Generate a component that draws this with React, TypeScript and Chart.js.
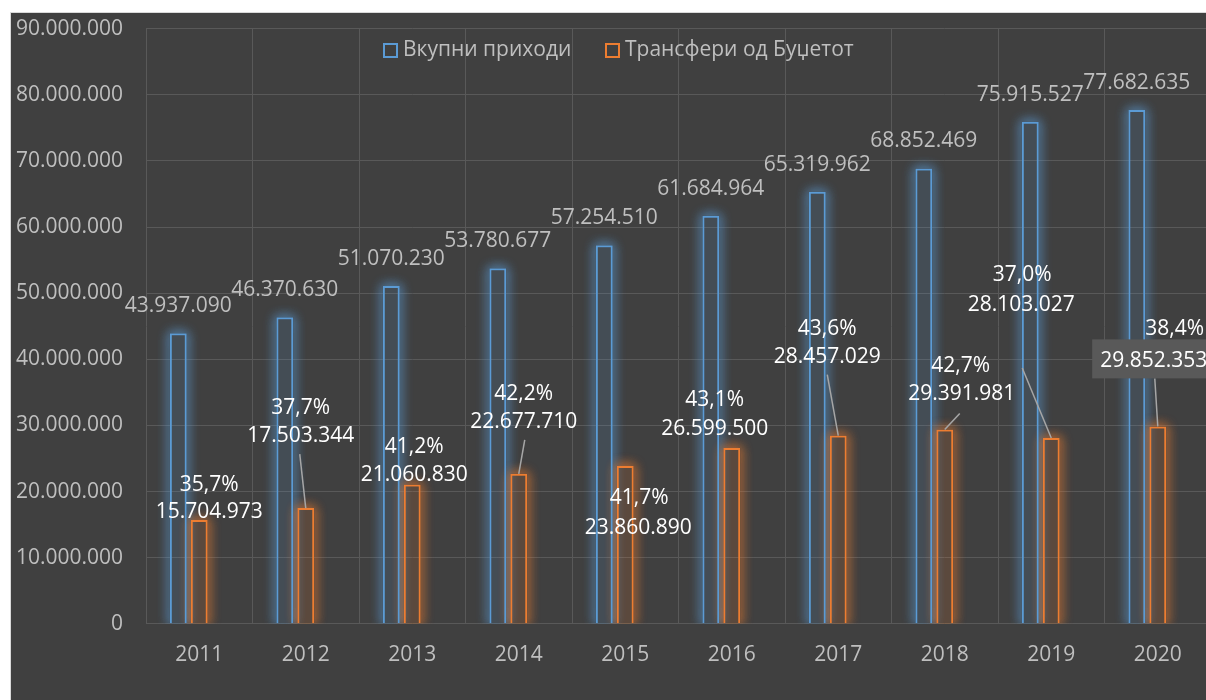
import { useEffect, useRef } from 'react';
import { Chart, registerables } from 'chart.js';

Chart.register(...registerables);

// ---- data ----
const YEARS = ['2011', '2012', '2013', '2014', '2015', '2016', '2017', '2018', '2019', '2020'];
const TOTAL_INCOME = [43937090, 46370630, 51070230, 53780677, 57254510, 61684964, 65319962, 68852469, 75915527, 77682635];
const BUDGET_TRANSFERS = [15704973, 17503344, 21060830, 22677710, 23860890, 26599500, 28457029, 29391981, 28103027, 29852353];
const TRANSFER_SHARE = [35.7, 37.7, 41.2, 42.2, 41.7, 43.1, 43.6, 42.7, 37.0, 38.4];
const SERIES_NAMES = ['Вкупни приходи', 'Трансфери од Буџетот'];
const Y_MAX = 90000000;
const Y_STEP = 10000000;

// ---- label layout (manually placed labels in the original) ----
const TRANSFER_LABEL_OFFSET: [number, number][] = [
  [10, -8], [-5, -72], [2, -10], [5, -52], [13, 62], [-17, -19], [-11, -79], [17, -35], [-30, -133], [-4, -65],
];
const SHARE_LABEL_SHIFT: [number, number][] = [
  [0, -27], [0, -28], [0, -28], [0, -28], [1, -30], [0, -29], [0, -28], [-1, -28], [1, -30], [21, -32],
];
const LEADER_START: ([number, number] | null)[] = [
  null, [-1, 18], null, [1, 18], null, null, [0, 18], [-2, 19], [1, 63], [1, 17],
];
const BOXED_LABEL = [false, false, false, false, false, false, false, false, false, true];

const FONT = '"Open Sans", sans-serif';
const FS = 21;
const BLUE = '#5b9bd5';
const ORANGE = '#ed7d31';
const GRAY_TEXT = '#bfbfbf';
const SHIFT = 20; // canvas is shifted up inside the frame

const fmt = (v: number) => Math.round(v).toString().replace(/\B(?=(\d{3})+(?!\d))/g, '.');
const fmtPct = (v: number) => v.toFixed(1).replace('.', ',') + '%';

const glowPlugin = {
  id: 'glow',
  beforeDatasetsDraw(chart: any) {
    const { ctx, chartArea } = chart;
    const specs: [number, string][] = [
      [0, 'rgba(91,155,213,1)'],
      [1, 'rgba(237,125,49,1)'],
    ];
    const OFF = 5000;
    specs.forEach(([i, c]) => {
      const meta = chart.getDatasetMeta(i);
      meta.data.forEach((bar: any) => {
        const { x, y, base, width } = bar.getProps(['x', 'y', 'base', 'width'], true);
        const l = x - width / 2;
        ctx.save();
        ctx.beginPath();
        ctx.rect(0, 0, chart.width, chartArea.bottom);
        ctx.rect(l, y, width, base - y);
        ctx.clip('evenodd');
        for (let k = 0; k < 2; k++) {
          ctx.save();
          ctx.shadowColor = c;
          ctx.shadowBlur = 12;
          ctx.shadowOffsetX = OFF;
          ctx.strokeStyle = c;
          ctx.lineWidth = 3;
          ctx.strokeRect(l + 1.5 - OFF, y + 1.5, width - 3, base - y - 3);
          ctx.restore();
        }
        ctx.restore();
      });
    });
  },
};

const labelsPlugin = {
  id: 'labels',
  afterDatasetsDraw(chart: any) {
    const { ctx } = chart;
    ctx.save();
    ctx.font = `${FS}px ${FONT}`;
    ctx.textAlign = 'center';
    ctx.textBaseline = 'middle';

    // total income labels (outside end)
    const m0 = chart.getDatasetMeta(0);
    m0.data.forEach((bar: any, i: number) => {
      ctx.fillStyle = GRAY_TEXT;
      ctx.fillText(fmt(TOTAL_INCOME[i]), bar.x, bar.y - 27);
    });

    // budget transfer labels with share
    const m1 = chart.getDatasetMeta(1);
    m1.data.forEach((bar: any, i: number) => {
      const [dx, dy] = TRANSFER_LABEL_OFFSET[i];
      const vx = bar.x + dx;
      const vy = bar.y + dy;
      const txt = fmt(BUDGET_TRANSFERS[i]);
      const ls = LEADER_START[i];
      if (ls) {
        ctx.strokeStyle = '#a6a6a6';
        ctx.lineWidth = 1.5;
        ctx.beginPath();
        ctx.moveTo(vx + ls[0], vy + ls[1]);
        ctx.lineTo(bar.x, bar.y);
        ctx.stroke();
      }
      if (BOXED_LABEL[i]) {
        const w = ctx.measureText(txt).width;
        ctx.fillStyle = '#595959';
        ctx.fillRect(vx - w / 2 - 8, vy - 22, w + 16, 39);
      }
      ctx.fillStyle = '#ffffff';
      ctx.fillText(txt, vx, vy);
      const [px, py] = SHARE_LABEL_SHIFT[i];
      ctx.fillText(fmtPct(TRANSFER_SHARE[i]), vx + px, vy + py);
    });
    ctx.restore();
  },
};

const legendPlugin = {
  id: 'customLegend',
  afterDraw(chart: any) {
    const { ctx } = chart;
    const items: [number, string, string][] = [
      [372, BLUE, SERIES_NAMES[0]],
      [594, ORANGE, SERIES_NAMES[1]],
    ];
    ctx.save();
    ctx.font = `${FS}px ${FONT}`;
    ctx.textBaseline = 'middle';
    ctx.textAlign = 'left';
    items.forEach(([x, c, t]) => {
      ctx.strokeStyle = c;
      ctx.lineWidth = 2;
      ctx.strokeRect(x + 1, 31 + SHIFT, 13, 13);
      ctx.fillStyle = GRAY_TEXT;
      ctx.fillText(t, x + 20, 37 + SHIFT);
    });
    ctx.restore();
  },
};

export default function App() {
  const ref = useRef<HTMLCanvasElement | null>(null);

  useEffect(() => {
    if (!ref.current) return;
    Chart.defaults.font.family = FONT;
    const chart = new Chart(ref.current, {
      type: 'bar',
      data: {
        labels: YEARS,
        datasets: [
          {
            label: SERIES_NAMES[0],
            data: TOTAL_INCOME,
            backgroundColor: 'rgba(91,155,213,0.14)',
            borderColor: BLUE,
            borderWidth: 2,
            categoryPercentage: 0.59,
            barPercentage: 0.81,
          },
          {
            label: SERIES_NAMES[1],
            data: BUDGET_TRANSFERS,
            backgroundColor: 'rgba(237,125,49,0.16)',
            borderColor: ORANGE,
            borderWidth: 2,
            categoryPercentage: 0.59,
            barPercentage: 0.81,
          },
          {
            label: 'share',
            data: TRANSFER_SHARE,
            backgroundColor: 'rgba(0,0,0,0)',
            borderWidth: 0,
            categoryPercentage: 0.59,
            barPercentage: 0.81,
          },
        ],
      },
      options: {
        responsive: false,
        animation: false,
        layout: { padding: { top: 15, bottom: 37, left: 0, right: 0 } },
        plugins: {
          legend: { display: false },
          tooltip: { enabled: false },
        },
        scales: {
          x: {
            grid: { color: '#595959', offset: true, drawTicks: false },
            border: { display: false },
            ticks: { color: GRAY_TEXT, font: { family: FONT, size: FS }, padding: 19 },
          },
          y: {
            min: 0,
            max: Y_MAX,
            grid: { color: '#595959', drawTicks: false },
            border: { display: false },
            ticks: {
              stepSize: Y_STEP,
              color: GRAY_TEXT,
              font: { family: FONT, size: FS },
              padding: 23,
              callback: (v: any) => fmt(Number(v)),
            },
            afterFit: (s: any) => {
              s.width = 135;
            },
          },
        },
      },
      plugins: [glowPlugin, labelsPlugin, legendPlugin],
    } as any);
    return () => chart.destroy();
  }, []);

  return (
    <div
      style={{
        position: 'fixed',
        left: 0,
        top: 0,
        width: 1206,
        height: 700,
        overflow: 'hidden',
        background: '#ffffff',
      }}
    >
      <div
        style={{
          position: 'absolute',
          left: 10,
          top: 12,
          width: 1210,
          height: 700,
          overflow: 'hidden',
          background: '#404040',
          borderLeft: '1px solid #d9d9d9',
          borderTop: '1px solid #d9d9d9',
        }}
      >
        <canvas
          ref={ref}
          width={1200}
          height={731}
          style={{ display: 'block', position: 'absolute', left: 0, top: -SHIFT }}
        />
      </div>
    </div>
  );
}
